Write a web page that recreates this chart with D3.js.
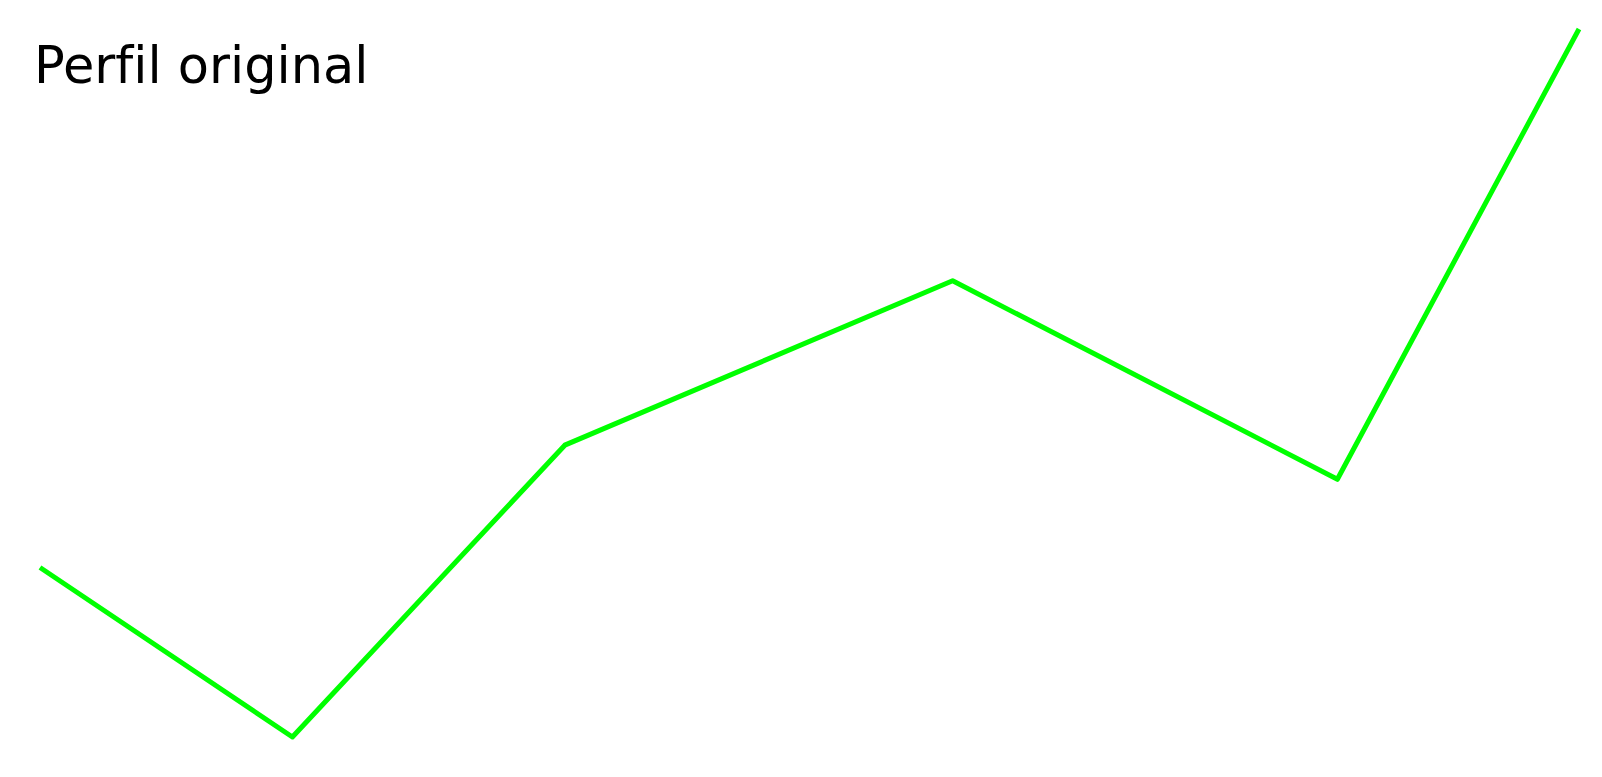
<!DOCTYPE html>
<html>
<head>
<meta charset="utf-8">
<script src="https://cdn.jsdelivr.net/npm/d3@7"></script>
<style>
  html, body { margin: 0; padding: 0; background: #fff; }
  svg { display: block; }
  text { font-variant-ligatures: none; font-feature-settings: "liga" 0; }
</style>
</head>
<body>
<svg id="chart" width="1602" height="777"></svg>
<script>
const titleText = "Perfil original";
const distances = [0, 16.4, 34.1, 59.3, 84.3, 100];
const elevations = [269, 100, 391, 555, 357, 806];

const svg = d3.select("#chart");
const x = d3.scaleLinear().domain(d3.extent(distances)).range([40, 1579]);
const y = d3.scaleLinear().domain(d3.extent(elevations)).range([737, 29]);

const pts = distances.map((d, i) => [d, elevations[i]]);
const line = d3.line().x(d => x(d[0])).y(d => y(d[1]));

svg.append("path")
  .datum(pts)
  .attr("d", line)
  .attr("fill", "none")
  .attr("stroke", "#00ff00")
  .attr("stroke-width", 5)
  .attr("stroke-linejoin", "round");

svg.append("text")
  .attr("x", 34)
  .attr("y", 83)
  .attr("font-family", "DejaVu Sans")
  .attr("font-size", 51)
  .attr("fill", "#000")
  .text(titleText);
</script>
</body>
</html>
